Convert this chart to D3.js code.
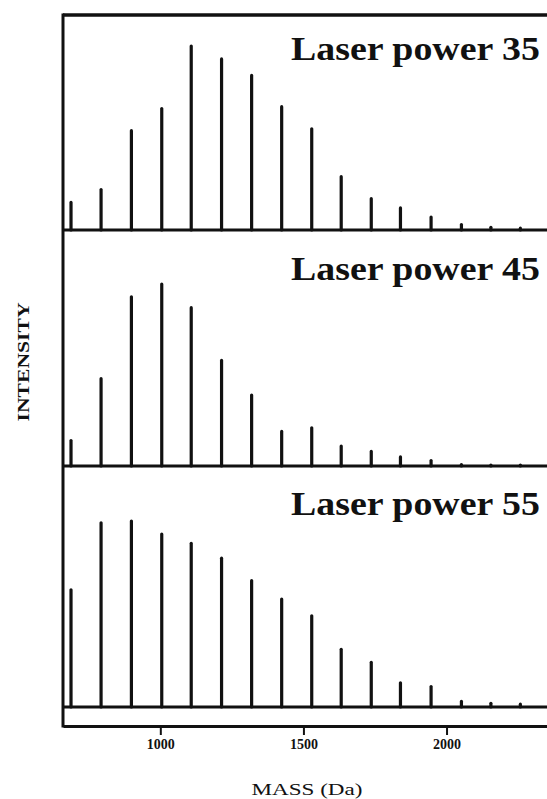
<!DOCTYPE html>
<html>
<head>
<meta charset="utf-8">
<script src="https://cdn.jsdelivr.net/npm/d3@7/dist/d3.min.js"></script>
<style>
  html, body { margin: 0; padding: 0; background: #ffffff; }
  svg { display: block; }
</style>
</head>
<body>
<div id="chart"></div>
<script>
// Oligomer peak positions (Da), shared by all three spectra
const masses = [688, 793, 899, 1005, 1108, 1214, 1319, 1424, 1529, 1632, 1737, 1839, 1946, 2052, 2155, 2258];

// Relative peak intensities (tallest peak of each spectrum = 100)
const power35 = [15, 22, 54, 66, 100, 93, 84, 67, 55, 29, 17, 12, 7, 3, 1.5, 1];
const power45 = [14, 48, 93, 100, 87, 58, 39, 19, 21, 11, 8, 5, 3, 0.8, 0.5, 0.5];
const power55 = [63, 99, 100, 93, 88, 80, 68, 58, 49, 31, 24, 13, 11, 3, 2, 1.5];

const panelLabels = ["Laser power 35", "Laser power 45", "Laser power 55"];
const massTicks = [1000, 1500, 2000];
const xTitle = "MASS (Da)";
const yTitle = "INTENSITY";

const W = 547, H = 799;
const frameLeft = 63, frameTop = 15, axisY = 726;

const svg = d3.select("#chart").append("svg")
  .attr("width", W).attr("height", H);

const x = d3.scaleLinear().domain([660, 2351]).range([frameLeft, W]);

// Vertical layout of the stacked spectra: baseline and pixel height of the tallest peak
const panels = [
  { series: power35, baseline: 230, peakPx: 184, labelY: 60 },
  { series: power45, baseline: 466, peakPx: 182, labelY: 280 },
  { series: power55, baseline: 707, peakPx: 186, labelY: 515 }
];

const ink = "#111";

panels.forEach((p, i) => {
  const y = d3.scaleLinear().domain([0, 100]).range([p.baseline, p.baseline - p.peakPx]);
  const g = svg.append("g");

  // baseline of the spectrum
  g.append("line")
    .attr("x1", frameLeft).attr("x2", W)
    .attr("y1", y(0)).attr("y2", y(0))
    .attr("stroke", ink).attr("stroke-width", 3);

  // peaks
  g.selectAll("line.peak")
    .data(masses.map((m, k) => ({ m, v: p.series[k] })))
    .join("line")
    .attr("class", "peak")
    .attr("x1", d => x(d.m)).attr("x2", d => x(d.m))
    .attr("y1", y(0)).attr("y2", d => y(d.v))
    .attr("stroke", ink)
    .attr("stroke-width", 3.2)
    .attr("stroke-linecap", "round");

  g.append("text")
    .attr("x", 291).attr("y", p.labelY)
    .attr("font-family", "'Liberation Serif', 'DejaVu Serif', serif")
    .attr("font-weight", "bold")
    .attr("font-size", 34)
    .attr("textLength", 249)
    .attr("lengthAdjust", "spacingAndGlyphs")
    .attr("fill", ink)
    .text(panelLabels[i]);
});

// outer frame: top and left edges
svg.append("line")
  .attr("x1", frameLeft).attr("x2", W)
  .attr("y1", frameTop).attr("y2", frameTop)
  .attr("stroke", ink).attr("stroke-width", 3.5);
svg.append("line")
  .attr("x1", frameLeft).attr("x2", frameLeft)
  .attr("y1", frameTop - 1.5).attr("y2", axisY + 1.5)
  .attr("stroke", ink).attr("stroke-width", 3);

// mass axis
const xAxis = svg.append("g")
  .attr("transform", `translate(0,${axisY})`)
  .call(d3.axisBottom(x).tickValues(massTicks).tickSize(9).tickSizeOuter(0).tickFormat(d3.format("d")));
xAxis.select(".domain").attr("stroke", ink).attr("stroke-width", 3);
xAxis.selectAll(".tick line").attr("stroke", ink).attr("stroke-width", 2);
xAxis.selectAll(".tick text")
  .attr("y", 13)
  .attr("dy", "0.71em")
  .attr("font-family", "'Liberation Serif', 'DejaVu Serif', serif")
  .attr("font-weight", "bold")
  .attr("font-size", 14)
  .attr("fill", ink);

svg.append("text")
  .attr("x", 307).attr("y", 795)
  .attr("text-anchor", "middle")
  .attr("font-family", "'Liberation Serif', 'DejaVu Serif', serif")
  .attr("font-size", 17)
  .attr("textLength", 111)
  .attr("lengthAdjust", "spacingAndGlyphs")
  .attr("fill", ink)
  .text(xTitle);

svg.append("text")
  .attr("transform", "translate(29,362) rotate(-90)")
  .attr("text-anchor", "middle")
  .attr("font-family", "'Liberation Serif', 'DejaVu Serif', serif")
  .attr("font-weight", "bold")
  .attr("font-size", 17)
  .attr("textLength", 119)
  .attr("lengthAdjust", "spacingAndGlyphs")
  .attr("fill", ink)
  .text(yTitle);
</script>
</body>
</html>
